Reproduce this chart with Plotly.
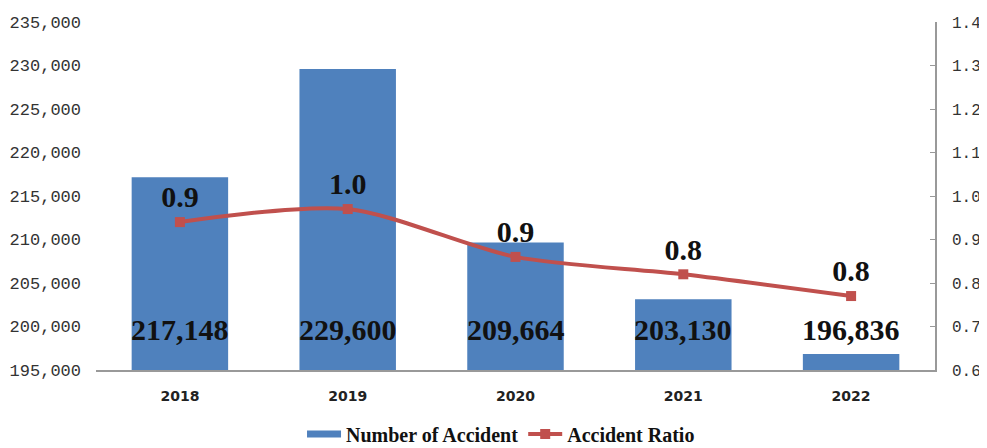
import plotly.graph_objects as go

years = ["2018", "2019", "2020", "2021", "2022"]
accidents = [217148, 229600, 209664, 203130, 196836]
ratio = [0.94, 0.97, 0.86, 0.82, 0.77]
ratio_labels = ["0.9", "1.0", "0.9", "0.8", "0.8"]
left_ticks = [195000, 200000, 205000, 210000, 215000, 220000, 225000, 230000, 235000]
right_ticks = [0.6, 0.7, 0.8, 0.9, 1.0, 1.1, 1.2, 1.3, 1.4]

BLUE = "#4F81BD"
RED = "#C0504D"
LABELFONT = "Liberation Serif"

fig = go.Figure()
fig.add_trace(go.Bar(
    x=years, y=accidents, name="Number of Accident", showlegend=False,
    marker=dict(color=BLUE, line=dict(width=0)), width=0.575,
))
# legend entry drawn as a wide blue swatch (no data marks)
fig.add_trace(go.Scatter(
    x=[None], y=[None], name="Number of Accident", mode="lines",
    line=dict(color=BLUE, width=7),
))
fig.add_trace(go.Scatter(
    x=years, y=ratio, name="Accident Ratio", yaxis="y2",
    mode="lines+markers+text",
    line=dict(color=RED, width=4, shape="spline", smoothing=0.8),
    marker=dict(symbol="square", size=10, color=RED),
    text=ratio_labels, textposition="top center",
    textfont=dict(family=LABELFONT, size=30, color="#111111", weight="bold"),
))

for i, v in enumerate(accidents):
    fig.add_annotation(
        x=i, y=199600, xref="x", yref="y", text=f"<b>{v:,}</b>",
        showarrow=False, yanchor="middle",
        font=dict(family=LABELFONT, size=30, color="#111111"),
    )

fig.update_layout(
    width=979, height=440,
    margin=dict(l=88, r=52, t=14, b=78, autoexpand=False),
    plot_bgcolor="white", paper_bgcolor="white",
    showlegend=True,
    legend=dict(
        orientation="h", xref="container", x=0.5036, xanchor="center",
        yref="container", y=0.032, yanchor="middle",
        font=dict(family="Liberation Serif", size=20, color="#111111", weight="bold"),
        itemwidth=34, traceorder="normal",
    ),
    xaxis=dict(
        type="category", range=[-0.5, 4.5],
        showline=True, linecolor="#999999", linewidth=1.5,
        ticks="", showgrid=False,
        tickfont=dict(family="DejaVu Sans", size=14, color="#222222", weight="bold"),
        ticklabelstandoff=12,
    ),
    yaxis=dict(
        range=[195000, 235000], tickvals=left_ticks,
        ticktext=[f"{t:,}" for t in left_ticks],
        showgrid=False, showline=False, ticks="", zeroline=False,
        tickfont=dict(family="Liberation Mono", size=17, color="#333333"),
        ticklabelstandoff=14,
    ),
    yaxis2=dict(
        range=[0.6, 1.4], tickvals=right_ticks,
        ticktext=[f"{t:.1f}" for t in right_ticks],
        overlaying="y", side="right",
        showgrid=False, showline=True, linecolor="#999999", linewidth=1.5,
        ticks="inside", ticklen=5, tickcolor="#999999", zeroline=False,
        tickfont=dict(family="Liberation Mono", size=16, color="#333333"),
        ticklabelstandoff=12,
    ),
)

fig.write_html("out.html")
